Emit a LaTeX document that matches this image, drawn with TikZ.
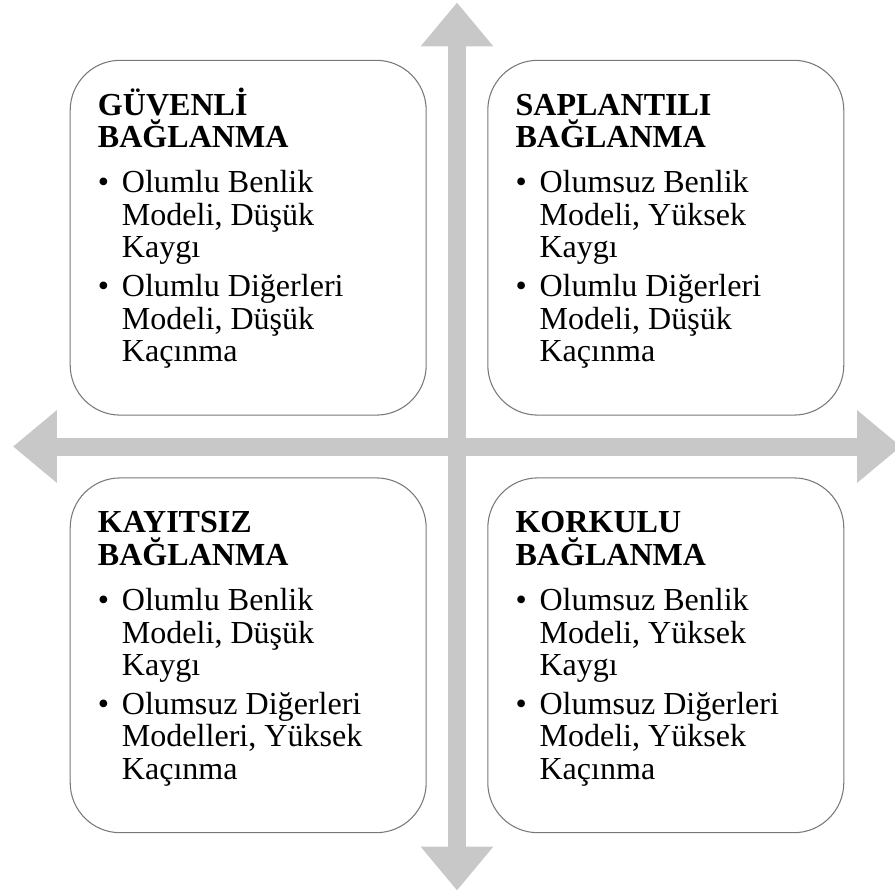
\documentclass[tikz,border=0pt]{standalone}
\usepackage{fontspec}
\setmainfont{Liberation Serif}
\usetikzlibrary{arrows.meta}
\definecolor{axisgray}{RGB}{200,200,200}
\definecolor{edgegray}{RGB}{120,120,120}
\newcommand{\itm}{\makebox[0.6cm][l]{\textbullet}}
\newcommand{\ind}{\hspace*{0.6cm}}
\tikzset{
  quad/.style={draw=edgegray,line width=0.75pt,fill=white,rounded corners=1.25cm,minimum width=8.9cm,minimum height=8.87cm},
  quadtext/.style={anchor=north west,inner sep=0pt,align=left,font=\fontsize{22.8pt}{23.1pt}\selectfont},
  axisarrow/.style={axisgray,line width=0.45cm,{Triangle[length=1.1cm,width=1.75cm]}-{Triangle[length=1.1cm,width=1.75cm]}}
}
\begin{document}
\begin{tikzpicture}
    \useasboundingbox (-11.425,-11.1125) rectangle (10.95,11.1625);
    %% axes
    \coordinate (top) at (0,11.1);
    \coordinate (bottom) at (0,-11.1);
    \coordinate (left) at (-11.1,0);
    \coordinate (right) at (11.1,0);
    \draw[axisarrow] (bottom) -- (top);
    \draw[axisarrow] (left) -- (right);
    %% boxes
    \node[quad] (gtl) at (-5.22,5.22) {};
    \node[quad] (gtr) at (5.22,5.22) {};
    \node[quad] (gbl) at (-5.22,-5.22) {};
    \node[quad] (gbr) at (5.22,-5.22) {};
    %% texts
    \node[quadtext] (ttl) at ([shift={(0.7,-0.625)}]gtl.north west) {\rule{0pt}{0.75cm}\textbf{GÜVENLİ}\\\textbf{BAĞLANMA}\\[9.2pt]
        \itm Olumlu Benlik\\\ind Modeli, Düşük\\\ind Kaygı\\[4.6pt]
        \itm Olumlu Diğerleri\\\ind Modeli, Düşük\\\ind Kaçınma};
    \node[quadtext] (ttr) at ([shift={(0.7,-0.625)}]gtr.north west) {\rule{0pt}{0.75cm}\textbf{SAPLANTILI}\\\textbf{BAĞLANMA}\\[9.2pt]
        \itm Olumsuz Benlik\\\ind Modeli, Yüksek\\\ind Kaygı\\[4.6pt]
        \itm Olumlu Diğerleri\\\ind Modeli, Düşük\\\ind Kaçınma};
    \node[quadtext] (tbl) at ([shift={(0.7,-0.625)}]gbl.north west) {\rule{0pt}{0.75cm}\textbf{KAYITSIZ}\\\textbf{BAĞLANMA}\\[9.2pt]
        \itm Olumlu Benlik\\\ind Modeli, Düşük\\\ind Kaygı\\[4.6pt]
        \itm Olumsuz Diğerleri\\\ind Modelleri, Yüksek\\\ind Kaçınma};
    \node[quadtext] (tbr) at ([shift={(0.7,-0.625)}]gbr.north west) {\rule{0pt}{0.75cm}\textbf{KORKULU}\\\textbf{BAĞLANMA}\\[9.2pt]
        \itm Olumsuz Benlik\\\ind Modeli, Yüksek\\\ind Kaygı\\[4.6pt]
        \itm Olumsuz Diğerleri\\\ind Modeli, Yüksek\\\ind Kaçınma};
\end{tikzpicture}
\end{document}
